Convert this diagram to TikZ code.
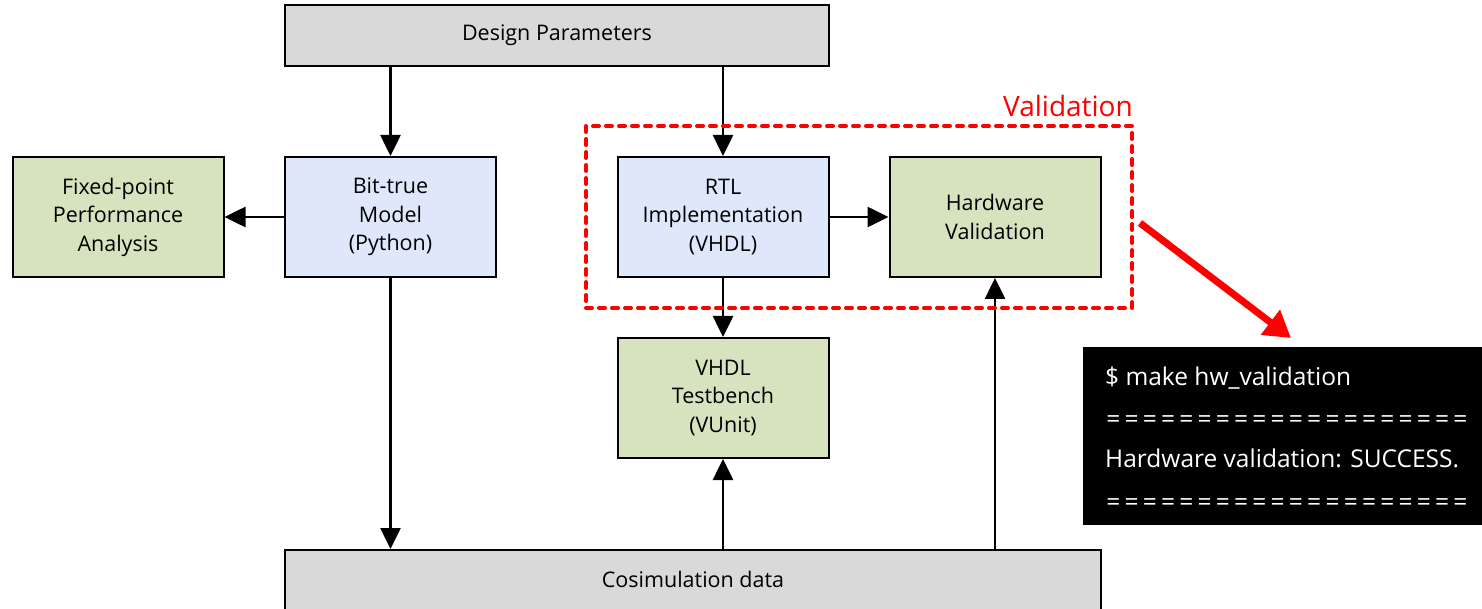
\documentclass[tikz,border=0pt]{standalone}
\usepackage{fontspec}
\setmainfont{Open Sans}
\usetikzlibrary{arrows.meta}
\definecolor{boxgray}{HTML}{D9D9D9}
\definecolor{boxblue}{HTML}{DFE8FB}
\definecolor{boxgreen}{HTML}{D7E3BF}
\definecolor{valred}{HTML}{FF0000}
\tikzset{
  blk/.style={draw=black, line width=2pt, inner sep=0pt, align=center,
    font=\fontsize{21.5}{28.5}\selectfont},
  graybox/.style={blk, fill=boxgray},
  bluebox/.style={blk, fill=boxblue, minimum width=211pt, minimum height=120pt},
  greenbox/.style={blk, fill=boxgreen, minimum width=211pt, minimum height=120pt},
  flow/.style={line width=2.6pt, -{Triangle[length=21pt, width=20pt]}},
  termtext/.style={text=white, font=\fontsize{24.5}{28}\selectfont, anchor=base west, inner sep=0pt},
}
\newcommand{\eqline}{\foreach \i in {1,...,20}{\makebox[18.26pt][c]{=}}}
\begin{document}
\begin{tikzpicture}[x=1pt, y=-1pt]
  \useasboundingbox (0,0) rectangle (1482,609);
  \fill[white] (0,0) rectangle (1482,609);

  % top and bottom bars
  \node[graybox, minimum width=544pt, minimum height=61pt] (params) at (557,35.5) {Design Parameters};
  \node[graybox, minimum width=816pt, minimum height=80pt, anchor=north] (cosim) at (693,549) {};
  \node[font=\fontsize{21.5}{28.5}\selectfont] (cosimtxt) at (693,579) {Cosimulation data};

  % middle row
  \node[greenbox] (fixed) at (118,217) {Fixed-point\\Performance\\Analysis};
  \node[bluebox] (model) at (390.5,217) {Bit-true\\Model\\(Python)};
  \node[bluebox] (rtl) at (723,217) {RTL\\Implementation\\(VHDL)};
  \node[greenbox] (hw) at (995,217) {Hardware\\Validation};
  \node[greenbox] (tb) at (723,398) {VHDL\\Testbench\\(VUnit)};

  % connectors
  \draw[flow] (params.south -| model.north) -- (model.north);
  \draw[flow] (params.south -| rtl.north) -- (rtl.north);
  \draw[flow] (model.west) -- (fixed.east);
  \draw[flow] (rtl.east) -- (hw.west);
  \draw[flow] (rtl.south) -- (tb.north);
  \draw[flow] (model.south) -- (model.south |- cosim.north);
  \draw[flow] (cosim.north -| tb.south) -- (tb.south);
  \draw[flow] (cosim.north -| hw.south) -- (hw.south);

  % validation group
  \node[draw=valred, line width=4pt, dash pattern=on 6pt off 7pt, line cap=round,
        minimum width=546pt, minimum height=182pt, inner sep=0pt] (valbox) at (859,217) {};
  \node[text=valred, font=\fontsize{28}{32}\selectfont, anchor=base east, inner sep=0pt]
        (vallabel) at (1133,117) {Validation};

  % terminal output
  \node[fill=black, minimum width=399pt, minimum height=178pt, inner sep=0pt, anchor=north west]
        (term) at (1083,347) {};
  \node[termtext] (t1) at (1105,385) {\$ make hw\_validation};
  \node[termtext] (t2) at (1104,427) {\eqline};
  \node[termtext] (t3) at (1105,467) {Hardware validation: SUCCESS.};
  \node[termtext] (t4) at (1104,510) {\eqline};

  \coordinate (redstart) at (1140,223);
  \coordinate (redend) at (1291,338);
  \draw[valred, line width=7pt, -{Triangle[length=26pt, width=30pt]}] (redstart) -- (redend);
\end{tikzpicture}
\end{document}
